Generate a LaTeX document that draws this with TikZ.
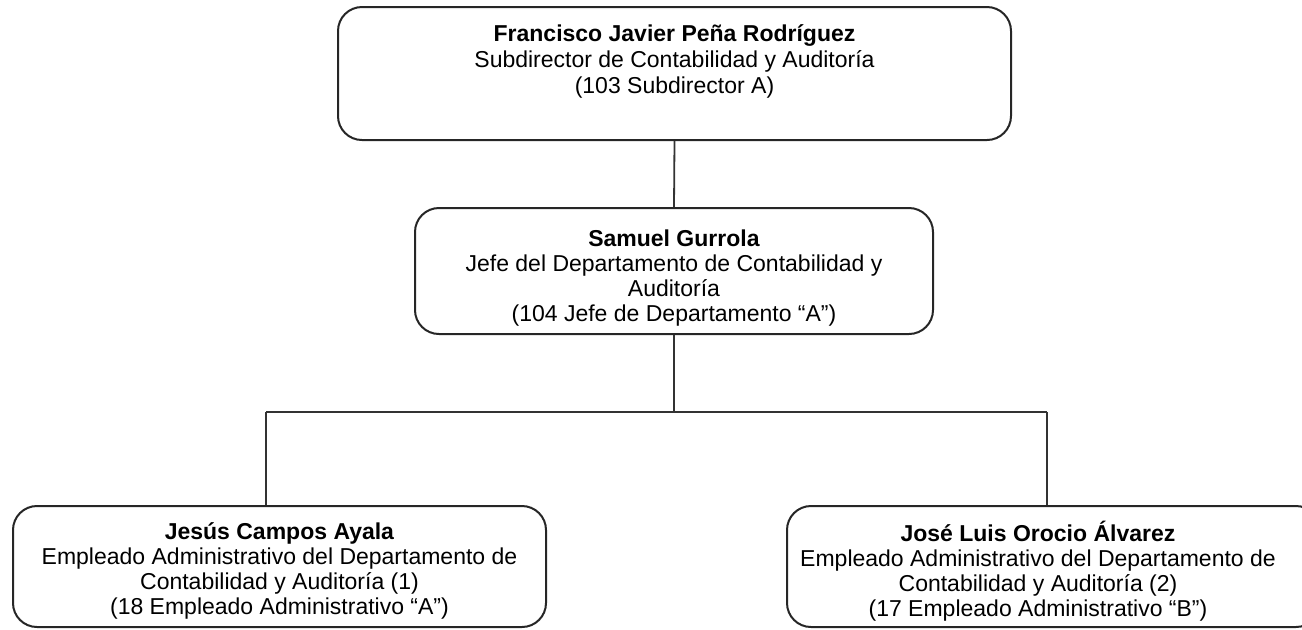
\documentclass[tikz,border=0pt]{standalone}
\usepackage{fontspec}
\setmainfont{Liberation Sans}
\usetikzlibrary{positioning}

\tikzset{
  puesto/.style={draw=black!85, line width=1pt, rounded corners=12pt, inner sep=0pt},
  texto/.style={align=center, font=\fontsize{11.5}{13}\selectfont, inner sep=0pt},
  textobajo/.style={texto, font=\fontsize{11.5}{12.4}\selectfont},
  linea/.style={draw=black!80, line width=0.9pt}
}

\begin{document}
\begin{tikzpicture}[x=0.5pt,y=-0.5pt]
\useasboundingbox (0,0) rectangle (1302,629);

% subdirector
\node[puesto, minimum width=336.5pt, minimum height=66.5pt] (sub) at (674.5,73.5) {};
\node[texto] (subtxt) at (674.5,61) {\textbf{Francisco Javier Peña Rodríguez}\\
  Subdirector de Contabilidad y Auditoría\\ (103 Subdirector A)};

% jefe de departamento
\node[puesto, minimum width=259pt, minimum height=63pt] (jefe) at (674,271) {};
\node[textobajo] (jefetxt) at (674,278) {\textbf{Samuel Gurrola}\\
  Jefe del Departamento de Contabilidad y\\ Auditoría\\
  (104 Jefe de Departamento “A”)};

% empleados
\node[puesto, minimum width=266.5pt, minimum height=60.5pt] (emp1) at (279.5,566.5) {};
\node[textobajo] (emp1txt) at (279.5,571) {\textbf{Jesús Campos Ayala}\\
  Empleado Administrativo del Departamento de\\ Contabilidad y Auditoría (1)\\
  (18 Empleado Administrativo “A”)};

\node[puesto, minimum width=266.5pt, minimum height=60.5pt] (emp2) at (1053.5,566.5) {};
\node[textobajo] (emp2txt) at (1038,571) {\textbf{José Luis Orocio Álvarez}\\
  Empleado Administrativo del Departamento de\\ Contabilidad y Auditoría (2)\\
  (17 Empleado Administrativo “B”)};

% conectores
\coordinate (barL) at (266,412);
\coordinate (barR) at (1047,412);
\draw[linea] (sub.south) -- (jefe.north);
\draw[linea] (jefe.south) -- (jefe.south |- barL);
\draw[linea] (barL) -- (barR);
\draw[linea] (barL) -- (barL |- emp1.north);
\draw[linea] (barR) -- (barR |- emp2.north);
\end{tikzpicture}
\end{document}
